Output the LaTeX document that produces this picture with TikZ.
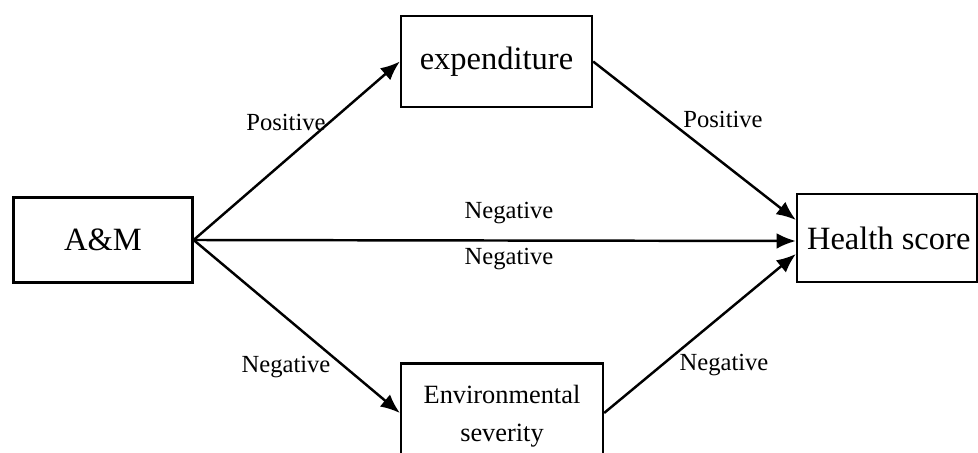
\documentclass[tikz,border=0pt]{standalone}
\usepackage{fontspec}
\setmainfont{Liberation Serif}
\usetikzlibrary{arrows.meta}

\begin{document}
\begin{tikzpicture}[
    box/.style={rectangle,draw,line width=1.3pt,inner sep=0pt,align=center},
    big/.style={font=\fontsize{18.5}{22}\selectfont},
    lbl/.style={font=\fontsize{14}{16}\selectfont},
    arr/.style={-{Latex[length=11pt,width=9pt]},line width=1.4pt}
  ]
    \useasboundingbox (0,0) rectangle (19.56,9.06);
    \node[box,big,minimum width=3.58cm,minimum height=1.7cm] (am) at (2.06,4.26) {\raisebox{-2pt}{A\&M}};
    \node[box,big,minimum width=3.82cm,minimum height=1.82cm] (exp) at (9.93,7.83) {\raisebox{-3pt}{expenditure}};
    \node[box,big,minimum width=3.6cm,minimum height=1.76cm] (hs) at (17.74,4.30) {\hspace{2pt}Health score};
    \node[box,minimum width=4.04cm,minimum height=2.1cm,
      font=\fontsize{15}{21.5}\selectfont] (env) at (10.04,0.74) {Environmental\\severity};
    % paths
    \draw[arr] (am.east) -- (exp.west);
    \draw[arr] (exp.east) -- ([yshift=0.36cm]hs.west);
    \draw[arr] (am.east) -- ([yshift=-0.06cm]hs.west);
    \draw[arr] (am.east) -- ([yshift=0.06cm]env.west);
    \draw[arr] ([yshift=0.06cm]env.east) -- ([yshift=-0.32cm]hs.west);
    % labels
    \node[lbl] (p1) at (5.72,6.62) {Positive};
    \node[lbl] (p2) at (14.46,6.68) {Positive};
    \node[lbl] (n1) at (10.18,4.80) {Negative};
    \node[lbl] (n2) at (10.18,3.88) {Negative};
    \node[lbl] (n3) at (5.72,1.72) {Negative};
    \node[lbl] (n4) at (14.48,1.76) {Negative};
  \end{tikzpicture}
\end{document}
